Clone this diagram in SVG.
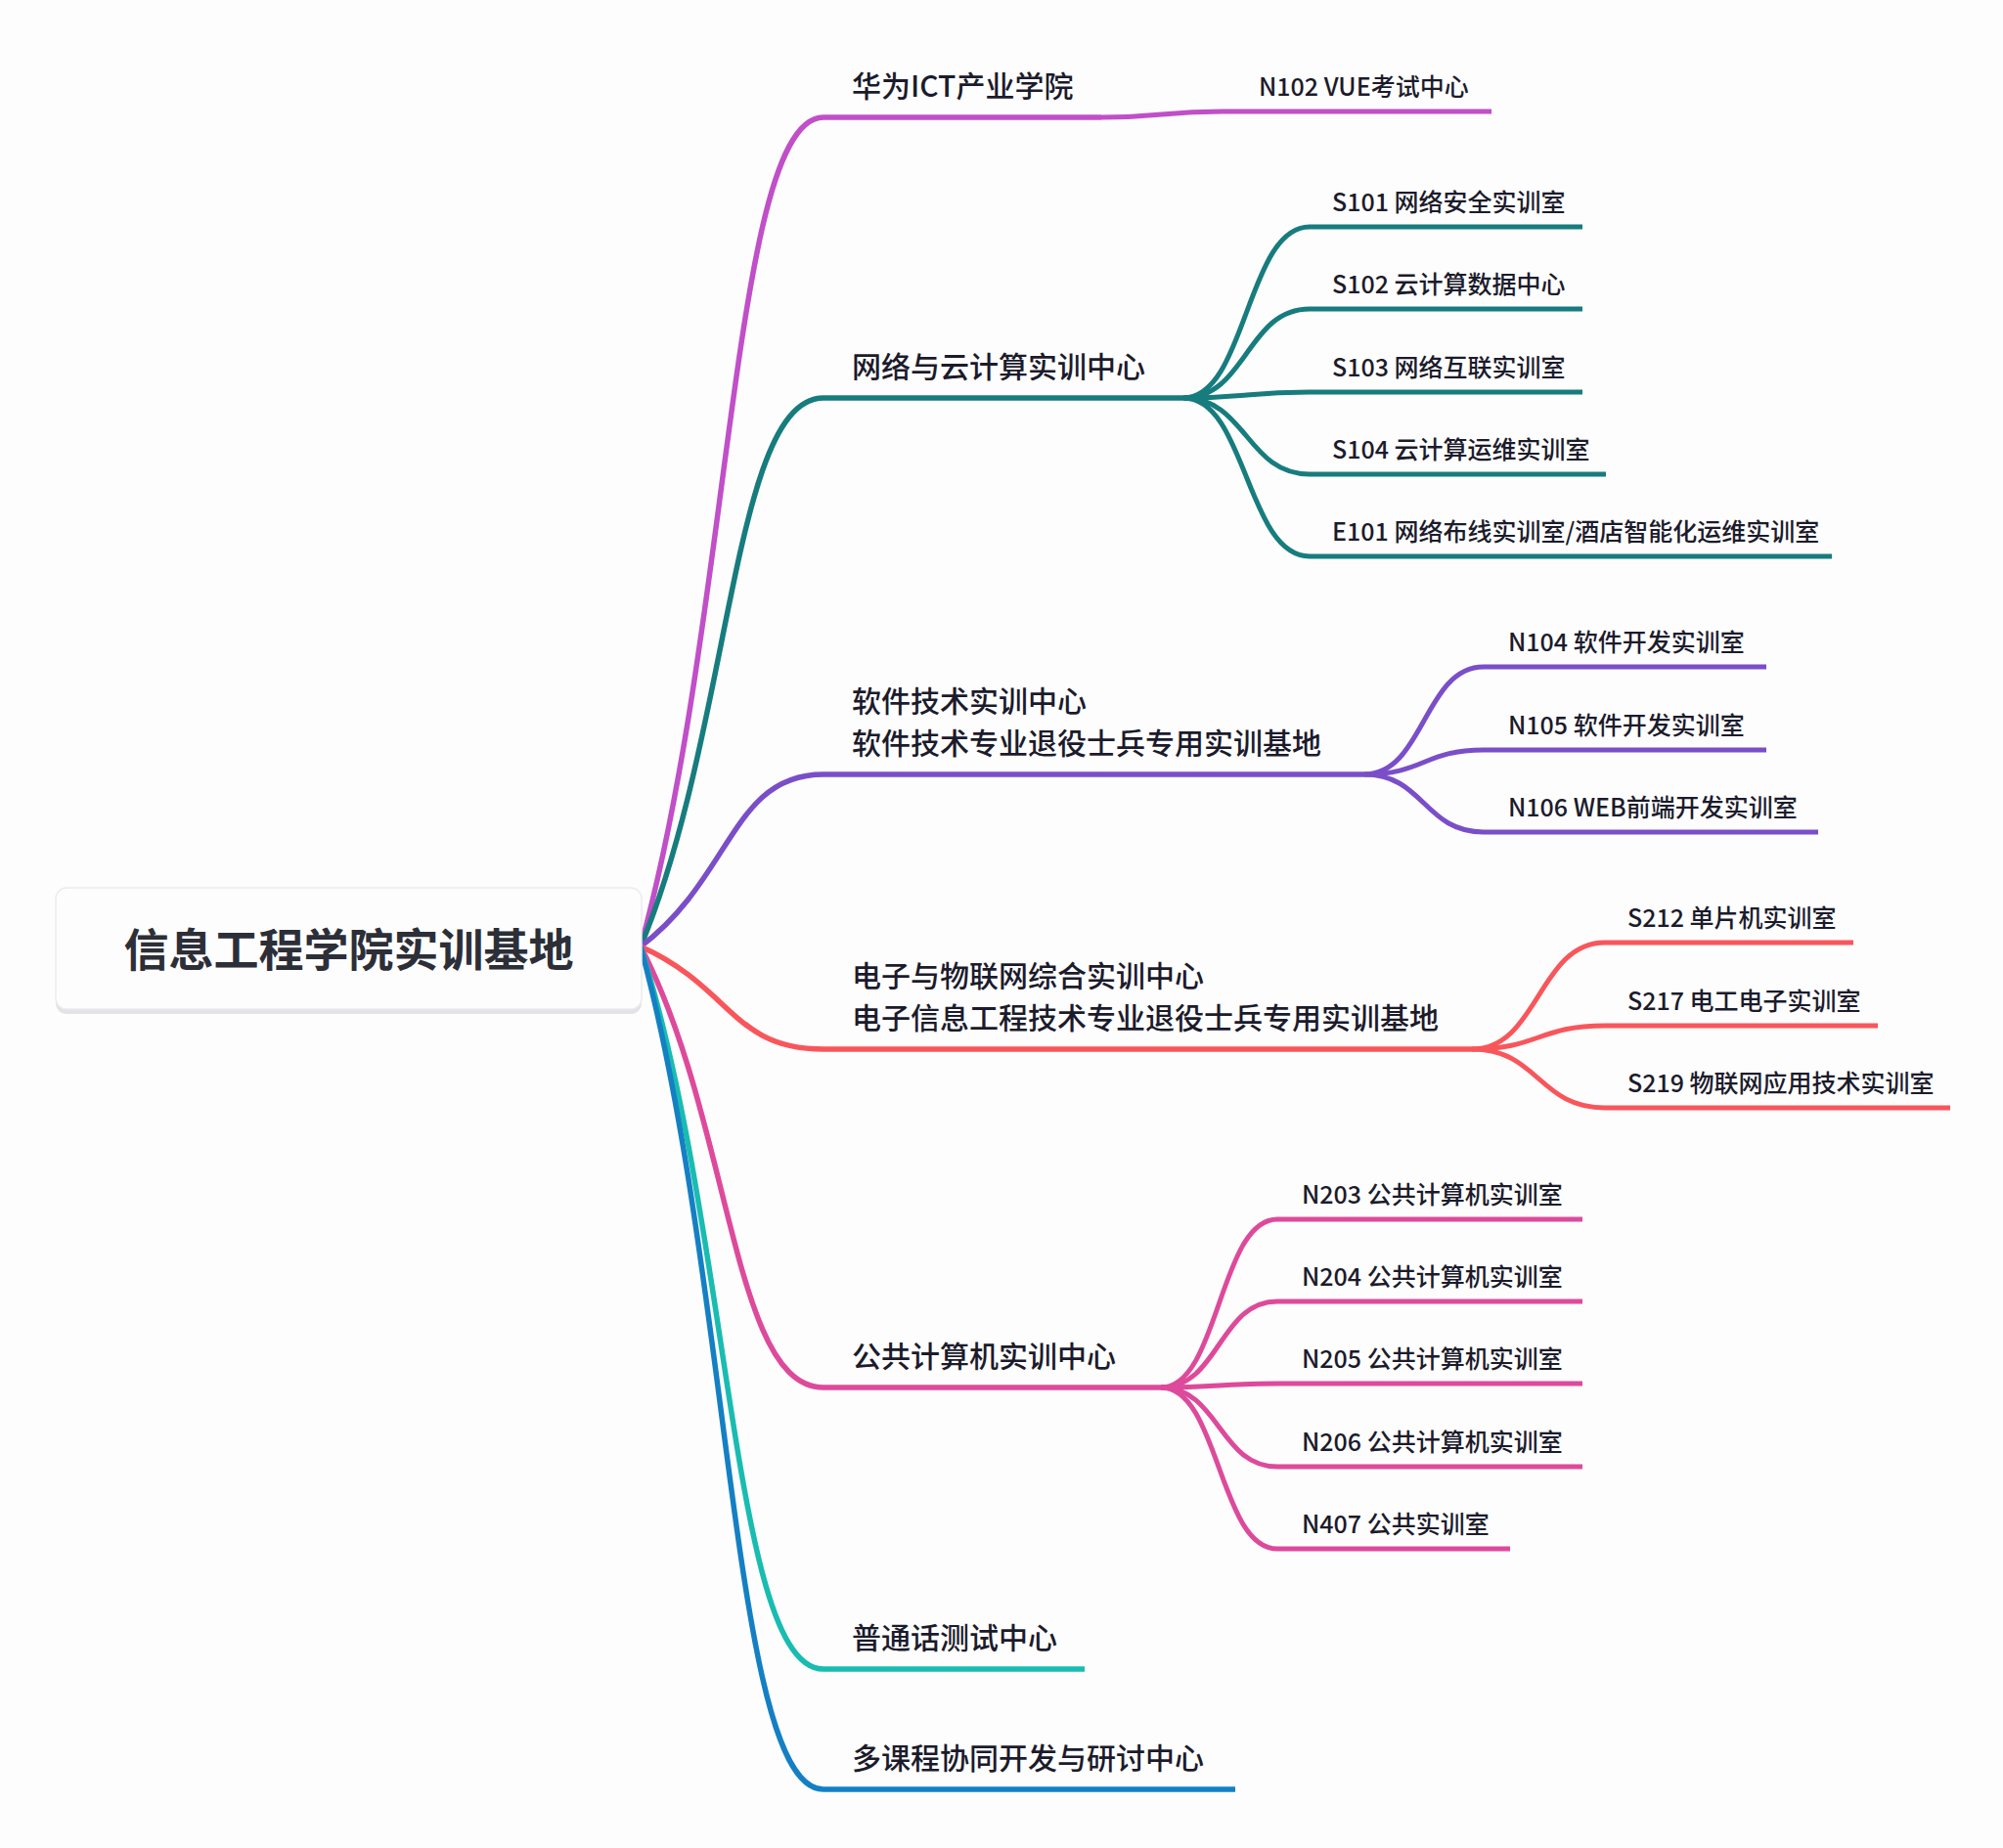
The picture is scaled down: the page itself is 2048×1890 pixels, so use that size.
<svg xmlns="http://www.w3.org/2000/svg" width="2048" height="1890" viewBox="0 0 2048 1890">
<style>
text{font-family:"Noto Sans CJK SC","Noto Sans",sans-serif;fill:#1b1b2c}
.root{font-size:46px;font-weight:700;fill:#2c2f38}
.p{font-size:30px;font-weight:500}
.c{font-size:25px;font-weight:500}
path{fill:none;stroke-linecap:butt}
.l0{stroke-width:5.5}
.l1{stroke-width:5.5}
.l2{stroke-width:5}
.mag{stroke:#c04fc8}.teal{stroke:#177c7e}.pur{stroke:#7a4ec9}.red{stroke:#f8565b}.pink{stroke:#de4a9b}.tq{stroke:#19bcb1}.blue{stroke:#1480c4}
</style>
<rect width="2048" height="1890" fill="#fdfdfd"/>
<g id="connectors">
<!-- root to main branches -->
<path class="l0 mag" d="M655,968 C748.5,628.8 748.5,120 842,120"/>
<path class="l0 teal" d="M655,968 C748.5,743.6 748.5,407 842,407"/>
<path class="l0 pur" d="M655,968 C748.5,897.6 748.5,792 842,792"/>
<path class="l0 red" d="M655,968 C748.5,1010 748.5,1073 842,1073"/>
<path class="l0 pink" d="M655,968 C748.5,1148.4 748.5,1419 842,1419"/>
<path class="l0 tq" d="M655,968 C748.5,1263.6 748.5,1707 842,1707"/>
<path class="l0 blue" d="M655,968 C748.5,1312.8 748.5,1830 842,1830"/>
<!-- parent underlines -->
<path class="l1 mag" d="M842,120 H1126"/>
<path class="l1 teal" d="M842,407 H1210"/>
<path class="l1 pur" d="M842,792 H1395"/>
<path class="l1 red" d="M842,1073 H1505"/>
<path class="l1 pink" d="M842,1419 H1187"/>
<path class="l1 tq" d="M842,1707 H1109"/>
<path class="l1 blue" d="M842,1830 H1263"/>
<!-- children -->
<path class="l2 mag" d="M1126,120 C1188,120 1188,114 1250,114 H1525"/>
<path class="l2 teal" d="M1210,407 C1274.5,407 1274.5,232 1339,232 H1618"/>
<path class="l2 teal" d="M1210,407 C1274.5,407 1274.5,316 1339,316 H1618"/>
<path class="l2 teal" d="M1210,407 C1274.5,407 1274.5,401 1339,401 H1618"/>
<path class="l2 teal" d="M1210,407 C1274.5,407 1274.5,485 1339,485 H1642"/>
<path class="l2 teal" d="M1210,407 C1274.5,407 1274.5,569 1339,569 H1873"/>
<path class="l2 pur" d="M1395,792 C1456,792 1456,682 1517,682 H1806"/>
<path class="l2 pur" d="M1395,792 C1456,792 1456,767 1517,767 H1806"/>
<path class="l2 pur" d="M1395,792 C1456,792 1456,851 1517,851 H1859"/>
<path class="l2 red" d="M1505,1073 C1573,1073 1573,964 1641,964 H1895"/>
<path class="l2 red" d="M1505,1073 C1573,1073 1573,1049 1641,1049 H1920"/>
<path class="l2 red" d="M1505,1073 C1573,1073 1573,1133 1641,1133 H1994"/>
<path class="l2 pink" d="M1187,1419 C1246.5,1419 1246.5,1247 1306,1247 H1618"/>
<path class="l2 pink" d="M1187,1419 C1246.5,1419 1246.5,1331 1306,1331 H1618"/>
<path class="l2 pink" d="M1187,1419 C1246.5,1419 1246.5,1415 1306,1415 H1618"/>
<path class="l2 pink" d="M1187,1419 C1246.5,1419 1246.5,1500 1306,1500 H1618"/>
<path class="l2 pink" d="M1187,1419 C1246.5,1419 1246.5,1584 1306,1584 H1544"/>
</g>
<g id="root">
<rect x="57" y="912" width="599" height="125" rx="11" fill="#e3e3e5"/>
<rect x="57" y="908" width="599" height="124" rx="11" fill="#fdfdfd" stroke="#ececee" stroke-width="1.5"/>
<text class="root" x="356.5" y="988" text-anchor="middle">信息工程学院实训基地</text>
</g>
<g id="n-ict"><text class="p" x="871" y="99">华为ICT产业学院</text></g>
<g id="n-n102"><text class="c" x="1287" y="98">N102 VUE考试中心</text></g>
<g id="n-cloud"><text class="p" x="871" y="386">网络与云计算实训中心</text></g>
<g id="n-s101"><text class="c" x="1362" y="216">S101 网络安全实训室</text></g>
<g id="n-s102"><text class="c" x="1362" y="300">S102 云计算数据中心</text></g>
<g id="n-s103"><text class="c" x="1362" y="385">S103 网络互联实训室</text></g>
<g id="n-s104"><text class="c" x="1362" y="469">S104 云计算运维实训室</text></g>
<g id="n-e101"><text class="c" x="1362" y="553">E101 网络布线实训室/酒店智能化运维实训室</text></g>
<g id="n-soft"><text class="p" x="871" y="728">软件技术实训中心</text><text class="p" x="871" y="771">软件技术专业退役士兵专用实训基地</text></g>
<g id="n-n104"><text class="c" x="1542" y="666">N104 软件开发实训室</text></g>
<g id="n-n105"><text class="c" x="1542" y="751">N105 软件开发实训室</text></g>
<g id="n-n106"><text class="c" x="1542" y="835">N106 WEB前端开发实训室</text></g>
<g id="n-iot"><text class="p" x="871" y="1009">电子与物联网综合实训中心</text><text class="p" x="871" y="1052">电子信息工程技术专业退役士兵专用实训基地</text></g>
<g id="n-s212"><text class="c" x="1664" y="948">S212 单片机实训室</text></g>
<g id="n-s217"><text class="c" x="1664" y="1033">S217 电工电子实训室</text></g>
<g id="n-s219"><text class="c" x="1664" y="1117">S219 物联网应用技术实训室</text></g>
<g id="n-pub"><text class="p" x="871" y="1398">公共计算机实训中心</text></g>
<g id="n-n203"><text class="c" x="1331" y="1231">N203 公共计算机实训室</text></g>
<g id="n-n204"><text class="c" x="1331" y="1315">N204 公共计算机实训室</text></g>
<g id="n-n205"><text class="c" x="1331" y="1399">N205 公共计算机实训室</text></g>
<g id="n-n206"><text class="c" x="1331" y="1484">N206 公共计算机实训室</text></g>
<g id="n-n407"><text class="c" x="1331" y="1568">N407 公共实训室</text></g>
<g id="n-pth"><text class="p" x="871" y="1686">普通话测试中心</text></g>
<g id="n-multi"><text class="p" x="871" y="1809">多课程协同开发与研讨中心</text></g>
</svg>
